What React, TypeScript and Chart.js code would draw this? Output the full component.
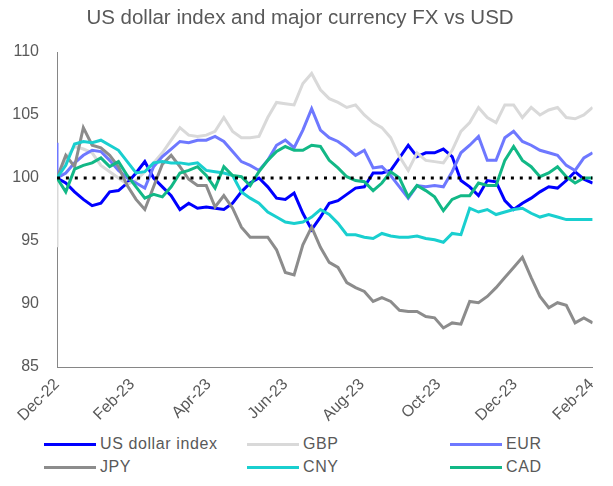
import React, { useEffect, useRef } from "react";
import { Chart, registerables } from "chart.js";

Chart.register(...registerables);

const START_DATE = "2022-12-30";
const WEEKS = 62;

const tickDates = ["2022-12-30", "2023-02-28", "2023-04-30", "2023-06-30", "2023-08-30", "2023-10-30", "2023-12-30", "2024-02-29"];
const tickLabels = ["Dec-22", "Feb-23", "Apr-23", "Jun-23", "Aug-23", "Oct-23", "Dec-23", "Feb-24"];
const yTicks = [85, 90, 95, 100, 105, 110];

const usd = [100, 99.6, 98.9, 98.3, 97.8, 98.0, 98.9, 99.0, 99.6, 100.4, 101.3, 100.0, 99.3, 98.6, 97.5, 98.0, 97.6, 97.7, 97.6, 97.5, 98.0, 98.9, 99.6, 100.0, 99.3, 98.4, 98.3, 98.8, 97.2, 95.9, 96.9, 98.0, 98.2, 98.7, 99.2, 99.3, 100.4, 100.4, 100.6, 101.6, 102.6, 101.7, 102.0, 102.0, 102.3, 101.7, 99.8, 99.3, 98.6, 99.8, 99.7, 98.2, 97.5, 98.0, 98.4, 98.9, 99.3, 99.2, 99.8, 100.5, 99.9, 99.6];
const gbp = [100, 101.5, 102.5, 102.3, 102.0, 101.0, 100.5, 100.0, 99.5, 99.8, 100.5, 101.2, 102.0, 103.0, 104.0, 103.4, 103.3, 103.4, 103.7, 104.8, 103.7, 103.2, 103.2, 103.3, 104.8, 106.0, 105.9, 105.8, 107.5, 108.3, 107.0, 106.3, 106.0, 105.6, 105.8, 105.0, 104.4, 104.0, 103.2, 101.7, 100.6, 102.0, 101.4, 101.3, 101.2, 102.2, 103.7, 104.4, 105.6, 104.8, 104.4, 105.8, 105.8, 104.8, 105.6, 105.0, 105.4, 105.6, 104.8, 104.7, 105.0, 105.6];
const eur = [100, 100.4, 101.2, 101.8, 102.2, 102.1, 101.4, 100.6, 100.0, 99.6, 99.2, 100.9, 101.7, 102.3, 102.9, 102.8, 103.0, 103.0, 103.3, 102.9, 102.1, 101.3, 101.0, 100.6, 101.4, 102.6, 103.0, 102.4, 103.8, 105.5, 103.8, 103.2, 102.9, 102.4, 101.8, 102.2, 100.8, 100.9, 100.2, 99.3, 98.4, 99.4, 99.3, 99.4, 99.3, 100.5, 102.0, 102.6, 103.3, 101.4, 101.4, 103.2, 103.7, 102.9, 102.6, 102.2, 102.0, 101.8, 101.0, 100.6, 101.6, 102.0];
const jpy = [100, 101.8, 100.9, 104.0, 102.6, 102.4, 101.8, 100.9, 99.4, 98.3, 97.5, 99.3, 101.1, 101.8, 100.9, 99.9, 99.4, 99.4, 97.7, 98.6, 97.6, 96.1, 95.3, 95.3, 95.3, 94.3, 92.5, 92.3, 94.7, 96.1, 94.5, 93.3, 92.9, 91.7, 91.3, 91.0, 90.2, 90.5, 90.2, 89.5, 89.4, 89.4, 89.0, 88.9, 88.1, 88.5, 88.4, 90.2, 90.1, 90.6, 91.3, 92.1, 92.9, 93.7, 92.1, 90.6, 89.7, 90.1, 89.9, 88.5, 88.9, 88.5];
const cny = [100, 101.0, 102.7, 102.9, 102.8, 103.0, 102.6, 102.2, 101.3, 100.4, 100.5, 101.2, 101.3, 101.2, 101.2, 101.1, 101.2, 100.6, 100.5, 100.4, 100.2, 98.9, 98.4, 98.0, 97.3, 96.9, 96.5, 96.4, 96.5, 96.9, 97.5, 97.1, 96.4, 95.5, 95.5, 95.3, 95.2, 95.6, 95.4, 95.3, 95.3, 95.4, 95.2, 95.1, 94.9, 95.6, 95.5, 97.6, 97.3, 97.5, 97.1, 97.3, 97.5, 97.6, 97.2, 96.9, 97.1, 96.9, 96.7, 96.7, 96.7, 96.7];
const cad = [100, 98.9, 100.7, 101.0, 101.2, 101.6, 100.9, 101.3, 100.2, 99.3, 98.4, 98.7, 98.5, 99.3, 100.4, 100.6, 100.9, 100.2, 99.2, 100.9, 100.2, 100.1, 99.4, 100.5, 101.4, 102.1, 102.5, 102.2, 102.2, 102.6, 102.5, 101.4, 100.8, 100.1, 99.8, 99.7, 99.0, 99.6, 100.5, 100.0, 98.5, 99.4, 99.0, 98.5, 97.4, 98.3, 98.6, 98.6, 99.6, 99.4, 99.4, 101.4, 102.5, 101.4, 100.9, 100.1, 100.4, 100.9, 100.1, 99.6, 100.0, 100.0];

// values plotted on the start date before the rebased 100 point
const eurStart = 102.8;
const gbpStart = 94.5;
const baseline = 100;

const seriesNames = ["US dollar index", "GBP", "EUR", "JPY", "CNY", "CAD"];
const seriesColors = ["#0000FF", "#D9D9D9", "#6E78FF", "#8C8C8C", "#19CFCF", "#12B886"];

const DAY = 86400000;
const startMs = Date.parse(START_DATE);
const dayOf = (d: string) => Math.round((Date.parse(d) - startMs) / DAY);
const weekDays = Array.from({ length: WEEKS }, (_, i) => i * 7);
const tickDays = tickDates.map(dayOf);

const FONT = "'Liberation Sans', Arial, sans-serif";
const TEXT = "#595959";

function toPoints(vals: number[], start?: number) {
  const pts = vals.map((v, i) => ({ x: weekDays[i], y: v }));
  if (start !== undefined) pts.unshift({ x: weekDays[0], y: start });
  return pts;
}

export default function App() {
  const ref = useRef<HTMLCanvasElement | null>(null);

  useEffect(() => {
    if (!ref.current) return;
    const all = [usd, gbp, eur, jpy, cny, cad];
    const starts: (number | undefined)[] = [undefined, gbpStart, eurStart, undefined, undefined, undefined];
    const lineSets = all.map((vals, k) => ({
      label: seriesNames[k],
      data: toPoints(vals, starts[k]),
      borderColor: seriesColors[k],
      backgroundColor: seriesColors[k],
      borderWidth: 3,
      pointRadius: 0,
      tension: 0,
      order: 6 - k,
    }));
    const chart = new Chart(ref.current, {
      type: "line",
      data: {
        datasets: [
          {
            label: "100",
            data: [
              { x: weekDays[0], y: baseline },
              { x: weekDays[WEEKS - 1], y: baseline },
            ],
            borderColor: "#000000",
            borderWidth: 3,
            borderDash: [3, 5.9],
            pointRadius: 0,
            order: 0,
          },
          ...lineSets,
        ] as any,
      },
      options: {
        animation: false,
        responsive: true,
        maintainAspectRatio: false,
        devicePixelRatio: 1,
        layout: { padding: { left: 0, right: 13, top: 0, bottom: 0 } },
        plugins: {
          legend: { display: false },
          tooltip: { enabled: false },
          title: {
            display: true,
            text: "US dollar index and major currency FX vs USD",
            color: TEXT,
            font: { family: FONT, size: 20.5, weight: "normal", lineHeight: 1.2 },
            padding: { top: 6, bottom: 21.4 },
          },
        },
        scales: {
          x: {
            type: "linear",
            min: weekDays[0],
            max: weekDays[WEEKS - 1],
            grid: { display: false, drawTicks: false },
            border: { display: true, color: "#868686", width: 1 },
            afterBuildTicks: (scale: any) => {
              scale.ticks = tickDays.map((v) => ({ value: v }));
            },
            afterFit: (scale: any) => {
              scale.height = 58;
            },
            ticks: {
              autoSkip: false,
              minRotation: 45,
              maxRotation: 45,
              padding: 8,
              color: TEXT,
              font: { family: FONT, size: 16 },
              callback: (value: any) => {
                const idx = tickDays.indexOf(Number(value));
                return idx >= 0 ? tickLabels[idx] : "";
              },
            },
          },
          y: {
            min: yTicks[0],
            max: yTicks[yTicks.length - 1],
            grid: { display: false, drawTicks: false },
            border: { display: true, color: "#868686", width: 1 },
            afterBuildTicks: (scale: any) => {
              scale.ticks = yTicks.map((v) => ({ value: v }));
            },
            afterFit: (scale: any) => {
              scale.width = 57;
            },
            ticks: {
              padding: 18,
              color: TEXT,
              font: { family: FONT, size: 16 },
            },
          },
        },
      },
    });
    return () => chart.destroy();
  }, []);

  const legendRows = [
    [0, 1, 2],
    [3, 4, 5],
  ];
  const colLeft = [44, 247, 450];

  return (
    <div style={{ position: "fixed", left: 0, top: 0, width: 613, height: 486, background: "#fff" }}>
      <div style={{ position: "absolute", left: 0, top: 0, width: 613, height: 425 }}>
        <canvas ref={ref} />
      </div>
      {legendRows.map((row, r) =>
        row.map((k, c) => (
          <div
            key={k}
            style={{
              position: "absolute",
              left: colLeft[c],
              top: 434 + r * 23,
              height: 20,
              display: "flex",
              alignItems: "center",
              fontFamily: FONT,
              fontSize: 16,
              letterSpacing: "0.6px",
              color: TEXT,
              whiteSpace: "nowrap",
            }}
          >
            <span style={{ display: "inline-block", width: 52, height: 3, background: seriesColors[k], marginRight: 4 }} />
            <span>{seriesNames[k]}</span>
          </div>
        ))
      )}
    </div>
  );
}
